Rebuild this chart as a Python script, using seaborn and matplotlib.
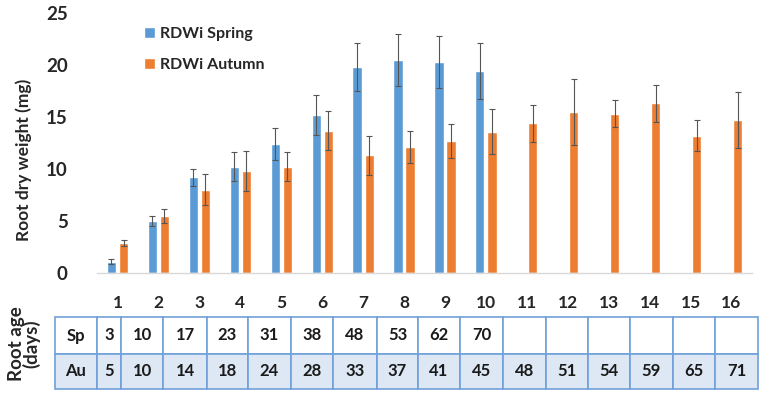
import numpy as np
import pandas as pd
import matplotlib
matplotlib.use("Agg")
import matplotlib.pyplot as plt
import seaborn as sns
from matplotlib.patches import Rectangle, Patch

# ---------------- data ----------------
categories = [str(i) for i in range(1, 17)]
spring_vals = [1.1, 5.0, 9.2, 10.2, 12.4, 15.2, 19.8, 20.5, 20.3, 19.4]
spring_err = [0.25, 0.5, 0.8, 1.4, 1.5, 1.9, 2.3, 2.5, 2.5, 2.7]
autumn_vals = [2.9, 5.5, 8.0, 9.8, 10.2, 13.7, 11.3, 12.1, 12.7, 13.6,
               14.4, 15.5, 15.3, 16.3, 13.2, 14.7]
autumn_err = [0.3, 0.7, 1.5, 1.9, 1.4, 1.9, 1.9, 1.55, 1.6, 2.2,
              1.8, 3.2, 1.3, 1.8, 1.5, 2.7]
series_names = ["RDWi Spring", "RDWi Autumn"]
sp_days = ["3", "10", "17", "23", "31", "38", "48", "53", "62", "70",
           "", "", "", "", "", ""]
au_days = ["5", "10", "14", "18", "24", "28", "33", "37", "41", "45",
           "48", "51", "54", "59", "65", "71"]
row_labels = ["Sp", "Au"]
yticks = [0, 5, 10, 15, 20, 25]

colors = {"RDWi Spring": "#5b9bd5", "RDWi Autumn": "#ed7d31"}

rows = []
for c, v in zip(categories, spring_vals):
    rows.append({"cat": c, "series": series_names[0], "val": v})
for c, v in zip(categories, autumn_vals):
    rows.append({"cat": c, "series": series_names[1], "val": v})
df = pd.DataFrame(rows)
errs = {series_names[0]: spring_err, series_names[1]: autumn_err}

# ---------------- figure ----------------
sns.set_theme(style="white")
plt.rcParams["font.family"] = ["Lato", "DejaVu Sans"]
W, H = 763, 395
fig = plt.figure(figsize=(W / 100, H / 100), dpi=100)
ax = fig.add_axes([97 / W, 1 - 273 / H, (752 - 97) / W, (273 - 13) / H])

sns.barplot(data=df, x="cat", y="val", hue="series", order=categories,
            hue_order=series_names, palette=colors, errorbar=None,
            width=0.59, gap=0.24, ax=ax, legend=False, saturation=1)

for i, name in enumerate(series_names):
    cont = ax.containers[i]
    for bar in cont:
        h = bar.get_height()
        if np.isnan(h):
            continue
        cx = bar.get_x() + bar.get_width() / 2
        idx = int(round(cx))
        ax.errorbar(cx, h, yerr=errs[name][idx], color="#555555",
                    elinewidth=0.8, capsize=2.5, capthick=0.8, fmt="none")

ax.set_xlim(-0.5, 15.5)
ax.set_ylim(0, 25)
ax.set_yticks(yticks)
ax.set_xlabel("")
ax.set_ylabel("Root dry weight (mg)", fontsize=12.5, fontweight="bold")
ax.yaxis.set_label_coords(-0.099, 0.435)
ax.tick_params(axis="both", length=0)
ax.tick_params(axis="x", pad=16, labelsize=12.5)
ax.tick_params(axis="y", pad=21, labelsize=13.5)
for lab in ax.get_xticklabels() + ax.get_yticklabels():
    lab.set_fontweight("bold")
for s in ["top", "right", "left"]:
    ax.spines[s].set_visible(False)
ax.spines["bottom"].set_color("#d9d9d9")
ax.spines["bottom"].set_linewidth(1)

handles = [Patch(facecolor=colors[n], label=n) for n in series_names]
leg = ax.legend(handles=handles, loc="upper left",
                bbox_to_anchor=(130 / W, 1 - 13 / H),
                bbox_transform=fig.transFigure, frameon=False,
                fontsize=11.5, handlelength=0.65, handleheight=0.65,
                handletextpad=0.35, labelspacing=1.05)
for t in leg.get_texts():
    t.set_fontweight("bold")

# ---------------- table ----------------
edges = [55, 97, 121, 163, 207, 248, 291, 333, 377, 418, 460, 503, 546,
         588, 630, 673, 715, 758]
row_y = [(317, 354), (354, 389)]
fills = ["white", "#dde8f4"]
border = "#6fa1d9"
for r, (y0, y1) in enumerate(row_y):
    cells = [row_labels[r]] + (sp_days if r == 0 else au_days)
    for j in range(len(edges) - 1):
        x0, x1 = edges[j], edges[j + 1]
        rect = Rectangle((x0 / W, 1 - y1 / H), (x1 - x0) / W, (y1 - y0) / H,
                         transform=fig.transFigure, facecolor=fills[r],
                         edgecolor=border, linewidth=1.2)
        fig.add_artist(rect)
        fig.text((x0 + x1) / 2 / W, 1 - (y0 + y1) / 2 / H, cells[j],
                 ha="center", va="center", fontsize=12, fontweight="bold",
                 color="#1a1a1a")

fig.text(24 / W, 1 - 344 / H, "Root age\n(days)", rotation=90, ha="center",
         va="center", fontsize=13.5, fontweight="bold", linespacing=0.85)

fig.savefig("out.png", dpi=100)
